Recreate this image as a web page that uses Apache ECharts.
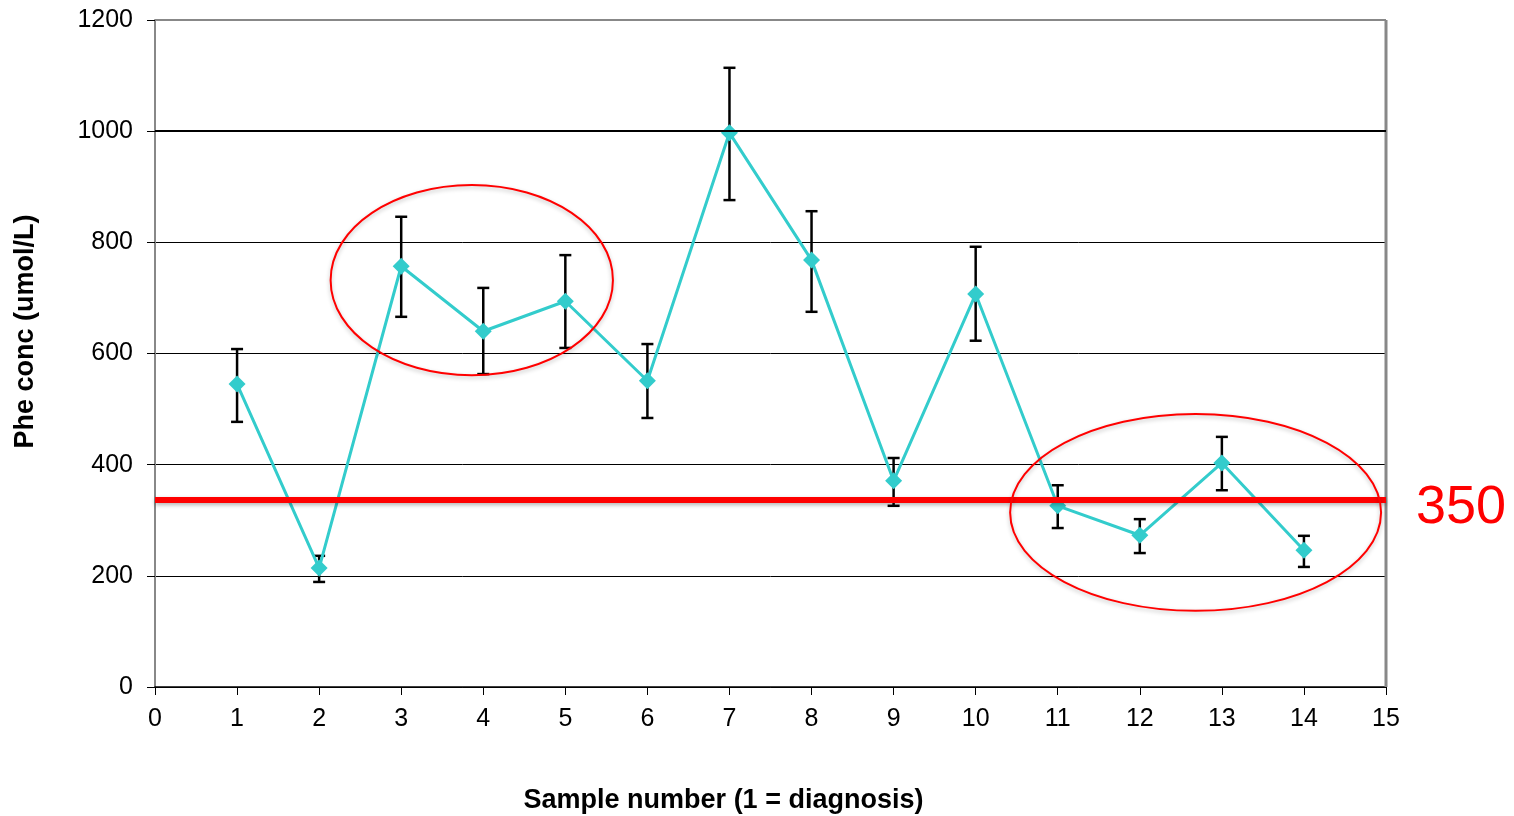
<!DOCTYPE html>
<html>
<head>
<meta charset="utf-8">
<script src="https://cdn.jsdelivr.net/npm/echarts@6/dist/echarts.min.js"></script>
<style>
html, body { margin: 0; padding: 0; background: #fff; }
#chart { width: 1514px; height: 816px; }
</style>
</head>
<body>
<div id="chart"></div>
<script>
// sample numbers and mean Phe values (umol/L)
var samples = [1, 2, 3, 4, 5, 6, 7, 8, 9, 10, 11, 12, 13, 14];
var pheMean = [545, 214, 757, 640, 694, 551, 997, 768, 371, 707, 326, 273, 403, 246];
var errLow  = [477, 189, 666, 563, 610, 484, 876, 675, 326, 623, 286, 241, 354, 216];
var errHigh = [608, 236, 846, 718, 777, 617, 1114, 856, 412, 792, 363, 302, 450, 272];

var threshold = 336;
var thresholdLabel = '350';

// circled groups: centre x, centre y, half width (x units), half height (y units)
var circleA = [3.86, 732, 1.72, 171];
var circleB = [12.68, 314, 2.26, 177];

var chart = echarts.init(document.getElementById('chart'));

var lineData = [];
var errData = [];
for (var i = 0; i < samples.length; i++) {
	lineData.push([samples[i], pheMean[i]]);
	errData.push([samples[i], errLow[i], errHigh[i]]);
}

var font = 'Liberation Sans, Arial, sans-serif';

var option = {
	animation: false,
	grid: { left: 155, right: 128, top: 20, bottom: 129, containLabel: false, outerBoundsMode: 'none' },
	xAxis: {
		type: 'value',
		min: 0, max: 15, interval: 1,
		name: 'Sample number (1 = diagnosis)',
		nameLocation: 'middle',
		nameGap: 100,
		nameTextStyle: {
			fontFamily: font, fontSize: 27, fontWeight: 'bold', color: '#000',
			padding: [0, 94, 0, 0]
		},
		axisLine: { lineStyle: { color: '#000', width: 1.5 } },
		axisTick: { show: true, length: 8, lineStyle: { color: '#000' } },
		axisLabel: { fontFamily: font, fontSize: 25, color: '#000', margin: 20 },
		splitLine: { show: false }
	},
	yAxis: {
		type: 'value',
		min: 0, max: 1200, interval: 200,
		name: 'Phe conc (umol/L)',
		nameLocation: 'middle',
		nameGap: 116,
		nameTextStyle: {
			fontFamily: font, fontSize: 27, fontWeight: 'bold', color: '#000',
			padding: [0, 0, 0, 44]
		},
		axisLine: { show: true, lineStyle: { color: '#888', width: 2 } },
		axisTick: { show: true, length: 8, lineStyle: { color: '#000' } },
		axisLabel: {
			fontFamily: font, fontSize: 25, color: '#000', margin: 22,
			formatter: function (v) { return String(v); }
		},
		splitLine: {
			show: true,
			lineStyle: {
				color: '#000',
				width: 1
			}
		}
	},
	series: [
		{
			type: 'custom',
			name: 'error',
			renderItem: function (params, api) {
				var x = api.value(0);
				var lo = api.coord([x, api.value(1)]);
				var hi = api.coord([x, api.value(2)]);
				var cap = 6;
				var st = { stroke: '#000', lineWidth: 2.5 };
				return {
					type: 'group',
					children: [
						{ type: 'line', shape: { x1: lo[0], y1: lo[1], x2: hi[0], y2: hi[1] }, style: st },
						{ type: 'line', shape: { x1: lo[0] - cap, y1: lo[1], x2: lo[0] + cap, y2: lo[1] }, style: st },
						{ type: 'line', shape: { x1: hi[0] - cap, y1: hi[1], x2: hi[0] + cap, y2: hi[1] }, style: st }
					]
				};
			},
			data: errData,
			z: 3,
			// the 1000 gridline is drawn heavier in the original
			markLine: {
				silent: true,
				symbol: 'none',
				data: [{ yAxis: 1000 }],
				lineStyle: { color: '#000', width: 2, type: 'solid' },
				label: { show: false }
			}
		},
		{
			type: 'line',
			name: 'Phe',
			data: lineData,
			symbol: 'diamond',
			symbolSize: 17,
			lineStyle: { color: '#33CCCC', width: 3 },
			itemStyle: { color: '#33CCCC' },
			z: 4,
			markLine: {
				silent: true,
				symbol: 'none',
				data: [{ yAxis: threshold }],
				lineStyle: {
					color: '#FF0000', width: 6, type: 'solid',
					shadowColor: 'rgba(0,0,0,0.3)', shadowBlur: 4, shadowOffsetY: 2
				},
				label: {
					show: true,
					position: 'end',
					formatter: thresholdLabel,
					color: '#FF0000',
					fontFamily: font,
					fontSize: 54,
					distance: 30,
					offset: [0, 8]
				}
			}
		}
	]
};

chart.setOption(option);

function ellipseFor(c) {
	var ctr = chart.convertToPixel({ gridIndex: 0 }, [c[0], c[1]]);
	var edge = chart.convertToPixel({ gridIndex: 0 }, [c[0] + c[2], c[1] + c[3]]);
	return {
		type: 'ellipse',
		shape: { cx: ctr[0], cy: ctr[1], rx: Math.abs(edge[0] - ctr[0]), ry: Math.abs(edge[1] - ctr[1]) },
		style: {
			fill: null, stroke: '#FF0000', lineWidth: 2,
			shadowColor: 'rgba(0,0,0,0.25)', shadowBlur: 4, shadowOffsetY: 2
		},
		z: 10,
		silent: true
	};
}

// frame: grey top and right border
var tl = chart.convertToPixel({ gridIndex: 0 }, [0, 1200]);
var br = chart.convertToPixel({ gridIndex: 0 }, [15, 0]);

chart.setOption({
	graphic: [
		{ type: 'line', shape: { x1: tl[0], y1: tl[1], x2: br[0], y2: tl[1] }, style: { stroke: '#888', lineWidth: 2 }, z: 1 },
		{ type: 'line', shape: { x1: br[0], y1: tl[1], x2: br[0], y2: br[1] }, style: { stroke: '#888', lineWidth: 3 }, z: 1 },
		ellipseFor(circleA),
		ellipseFor(circleB)
	]
});
</script>
</body>
</html>
